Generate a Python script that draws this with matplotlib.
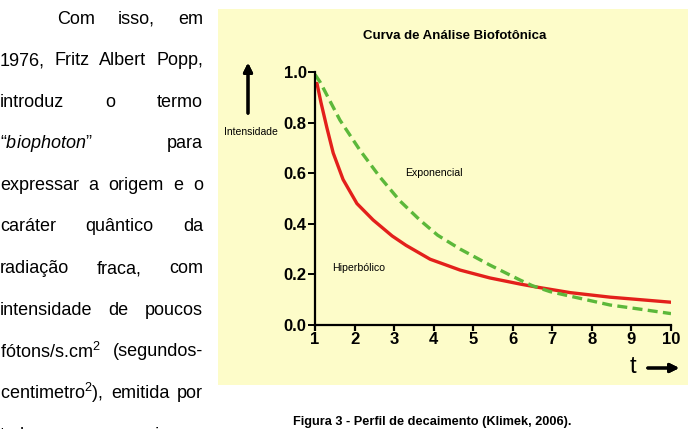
import matplotlib.pyplot as plt
from matplotlib.patches import Rectangle

plt.rcParams['font.family'] = ['Liberation Sans', 'DejaVu Sans']
plt.rcParams['mathtext.fontset'] = 'custom'
plt.rcParams['mathtext.rm'] = 'Liberation Sans'
plt.rcParams['mathtext.it'] = 'Liberation Sans:italic'

# valores
t_hiper = [1.05, 1.15, 1.3, 1.46, 1.71, 2.06, 2.47, 2.95, 3.3, 3.91, 4.67, 5.42, 6.18, 6.6, 7.45, 8.46, 10]
i_hiper = [0.955, 0.88, 0.78, 0.68, 0.575, 0.48, 0.415, 0.352, 0.315, 0.26, 0.217, 0.186, 0.162, 0.15, 0.128, 0.11, 0.09]
t_expo = [1, 1.13, 1.63, 2.14, 2.64, 3.15, 3.65, 4.1, 4.67, 5.42, 6.18, 6.5, 6.94, 7.45, 8.46, 9.2, 10]
i_expo = [0.99, 0.96, 0.81, 0.69, 0.585, 0.49, 0.415, 0.355, 0.30, 0.237, 0.178, 0.155, 0.132, 0.114, 0.079, 0.063, 0.045]
x_ticks = [1, 2, 3, 4, 5, 6, 7, 8, 9, 10]
y_ticks = [0.0, 0.2, 0.4, 0.6, 0.8, 1.0]

linhas = [
    ["Com", "isso,", "em"],
    ["1976,", "Fritz", "Albert", "Popp,"],
    ["introduz", "o", "termo"],
    [r"“$\mathit{biophoton}$”", "para"],
    ["expressar", "a", "origem", "e", "o"],
    ["caráter", "quântico", "da"],
    ["radiação", "fraca,", "com"],
    ["intensidade", "de", "poucos"],
    [r"fótons/s.cm$^2$", "(segundos-"],
    [r"centimetro$^2$),", "emitida", "por"],
    ["todos", "os", "organismos"],
]

W, H = 688, 429
fig = plt.figure(figsize=(W / 100, H / 100), dpi=100)
fig.patch.set_facecolor('white')

# painel amarelo
fig.add_artist(Rectangle((218 / W, 1 - 385 / H), 470 / W, 376 / H,
                         transform=fig.transFigure, facecolor='#fdfcc9',
                         edgecolor='none', zorder=0))

ax = fig.add_axes([315 / W, 1 - 325 / H, 356 / W, 253 / H])
ax.set_facecolor('none')
ax.plot(t_hiper, i_hiper, color='#e3201b', lw=2.4, solid_capstyle='round')
ax.plot(t_expo, i_expo, color='#5cb83a', lw=2.4, dashes=(3, 1.6))
ax.set_xlim(1, 10)
ax.set_ylim(0, 1)
ax.set_xticks(x_ticks)
ax.set_xticklabels([str(v) for v in x_ticks])
ax.set_yticks(y_ticks)
ax.set_yticklabels([f"{v:.1f}" for v in y_ticks])
for s in ['top', 'right']:
    ax.spines[s].set_visible(False)
for s in ['left', 'bottom']:
    ax.spines[s].set_linewidth(1.6)
ax.tick_params(axis='y', direction='out', length=5, width=1.4, labelsize=12, pad=1)
ax.tick_params(axis='x', direction='out', length=4, width=1.6, labelsize=12, pad=1)
for lb in ax.get_xticklabels() + ax.get_yticklabels():
    lb.set_fontweight('bold')

fig.text(455 / W, 1 - 36 / H, "Curva de Análise Biofotônica", ha='center',
         va='center', fontsize=9.5, fontweight='bold')
fig.text(251 / W, 1 - 132 / H, "Intensidade", ha='center', va='center', fontsize=7.5)
fig.text(405 / W, 1 - 173 / H, "Exponencial", ha='left', va='center', fontsize=7.6)
fig.text(332 / W, 1 - 268 / H, "Hiperbólico", ha='left', va='center', fontsize=7.6)
fig.text(633 / W, 1 - 367 / H, "t", ha='center', va='center', fontsize=17)
fig.add_artist(plt.annotate("", xy=(248 / W, 1 - 60 / H), xytext=(248 / W, 1 - 116 / H),
                            xycoords='figure fraction',
                            arrowprops=dict(arrowstyle='-|>', lw=2.2, color='black',
                                            mutation_scale=13)))
fig.add_artist(plt.annotate("", xy=(682 / W, 1 - 368 / H), xytext=(645 / W, 1 - 368 / H),
                            xycoords='figure fraction',
                            arrowprops=dict(arrowstyle='-|>', lw=2.2, color='black',
                                            mutation_scale=13)))

fig.text(432 / W, 1 - 422 / H, "Figura 3 - Perfil de decaimento (Klimek, 2006).",
         ha='center', va='center', fontsize=9.2, fontweight='bold')

# texto justificado à esquerda
renderer = fig.canvas.get_renderer()
x_esq, x_dir = 0, 203
for n, palavras in enumerate(linhas):
    y = 1 - (19 + n * 41.6) / H
    inicio = 57 if n == 0 else x_esq
    textos = [fig.text(0, y, p, ha='left', va='center', fontsize=13) for p in palavras]
    larguras = [t.get_window_extent(renderer).width for t in textos]
    espaco = (x_dir - inicio - sum(larguras)) / (len(textos) - 1)
    x = inicio
    for t, w in zip(textos, larguras):
        t.set_x(x / W)
        x += w + espaco

fig.savefig("out.png", dpi=100)
